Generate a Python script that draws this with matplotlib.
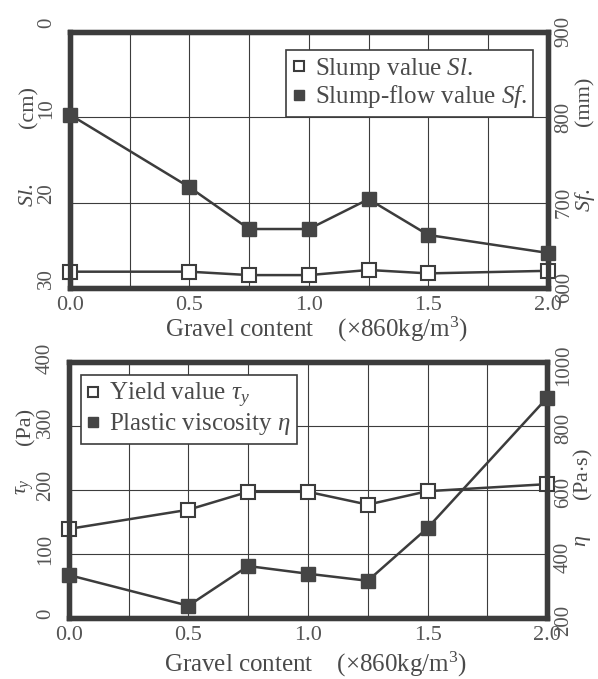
import matplotlib
matplotlib.use('Agg')
import matplotlib.pyplot as plt
import matplotlib.transforms as mtransforms

# Times 风格字体
plt.rcParams['font.family'] = ['Liberation Serif', 'DejaVu Serif']
plt.rcParams['mathtext.fontset'] = 'custom'
plt.rcParams['mathtext.rm'] = 'Liberation Serif'
plt.rcParams['mathtext.it'] = 'Liberation Serif:italic'

INK = '#3c3c3c'
TXT = '#4a4a4a'
FS = 18        # 图例、横轴标题
FS_X = 16      # 横轴刻度
FS_Y = 15      # 竖排刻度与竖排标题

# 粗骨料含量 (×860kg/m3)
gravel = [0.0, 0.5, 0.75, 1.0, 1.25, 1.5, 2.0]

# 坍落度 Sl (cm) 与坍落扩展度 Sf (mm)
slump = [28.1, 28.1, 28.5, 28.5, 27.9, 28.3, 28.0]
slump_flow = [803, 718, 669, 669, 704, 662, 641]

# 屈服值 τy (Pa) 与塑性黏度 η (Pa·s)
yield_value = [139, 169, 197, 197, 177, 198, 209]
viscosity = [334, 238, 362, 338, 316, 481, 888]

x_ticks = [0.0, 0.5, 1.0, 1.5, 2.0]
x_grid = [0.25, 0.5, 0.75, 1.0, 1.25, 1.5, 1.75]
XLABEL = 'Gravel content    (×860kg/m$^3$)'


def thick_spines(ax):
    for side in ax.spines.values():
        side.set_linewidth(3.8)
        side.set_color(INK)


def style_frame(ax):
    """粗边框、细网格"""
    ax.set_xlim(0, 2.0)
    ax.set_xticks(x_ticks)
    ax.set_xticklabels(['%.1f' % v for v in x_ticks])
    for x in x_grid:
        ax.axvline(x, color=INK, lw=0.8, zorder=0)
    thick_spines(ax)
    ax.tick_params(length=0, colors='#555555')
    ax.tick_params(axis='x', pad=6, labelsize=FS_X)
    ax.tick_params(axis='y', rotation=90, pad=10, labelsize=FS_Y)


def style_right(ax2, ticks):
    ax2.set_yticks(ticks)
    ax2.tick_params(length=0, labelsize=FS_Y, colors='#555555', rotation=90, pad=5)
    thick_spines(ax2)


def center_labels(ax, dy=0):
    off = mtransforms.ScaledTranslation(0, dy / 100, ax.figure.dpi_scale_trans)
    for lab in ax.get_yticklabels():
        lab.set_va('center')
        if dy:
            lab.set_transform(lab.get_transform() + off)


def series(ax, x, y, filled):
    if filled:
        ax.plot(x, y, color=INK, lw=1.8, marker='s', ms=9.5, mfc='#454545',
                mec='#454545', clip_on=False, zorder=5)
    else:
        ax.plot(x, y, color=INK, lw=1.8, marker='s', ms=9.5, mfc='white',
                mec=INK, mew=1.5, clip_on=False, zorder=6)


def add_legend(ax, host, labels, **kw):
    h1, = host.plot([], [], 's', ms=7.5, mfc='white', mec=INK, mew=1.5)
    h2, = host.plot([], [], 's', ms=7.5, mfc='#454545', mec='#454545')
    leg = ax.legend([h1, h2], labels, fontsize=FS, handlelength=0.5,
                    handletextpad=0.4, borderpad=0.25, labelspacing=0.05,
                    borderaxespad=0, fancybox=False, framealpha=1, **kw)
    leg.get_frame().set_edgecolor(INK)
    leg.get_frame().set_linewidth(1.2)
    for t in leg.get_texts():
        t.set_color(TXT)


def axis_title(ax, x, pieces):
    """竖排轴标题：符号与单位分开放置"""
    for text, y in pieces:
        ax.text(x, y, text, transform=ax.transAxes, rotation=90, fontsize=FS_Y + 1,
                color=TXT, ha='center', va='center')


def plot_slump(ax):
    """坍落度与坍落扩展度"""
    style_frame(ax)
    ax.set_ylim(30, 0)
    ax.set_yticks([0, 10, 20, 30])
    ax2 = ax.twinx()
    ax2.set_ylim(600, 900)
    style_right(ax2, [600, 700, 800, 900])
    for y in [700, 800]:
        ax2.axhline(y, color=INK, lw=0.8, zorder=0)

    series(ax, gravel, slump, False)
    series(ax2, gravel, slump_flow, True)
    center_labels(ax, 9)
    center_labels(ax2)

    add_legend(ax2, ax, ['Slump value $\\it{Sl}$.', 'Slump-flow value $\\it{Sf}$.'],
               loc='upper right', bbox_to_anchor=(0.97, 0.93))

    ax.set_xlabel(XLABEL, fontsize=FS, color=TXT, va='top')
    ax.xaxis.set_label_coords(0.515, -0.106)
    axis_title(ax, -0.086, [('$\\it{Sl.}$', 0.363), ('(cm)', 0.707)])
    axis_title(ax, 1.077, [('$\\it{Sf.}$', 0.344), ('(mm)', 0.727)])


def plot_rheology(ax):
    """屈服值与塑性黏度"""
    style_frame(ax)
    ax.set_ylim(0, 400)
    ax.set_yticks([0, 100, 200, 300, 400])
    for y in [100, 200, 300]:
        ax.axhline(y, color=INK, lw=0.8, zorder=0)
    ax2 = ax.twinx()
    ax2.set_ylim(200, 1000)
    style_right(ax2, [200, 400, 600, 800, 1000])

    series(ax, gravel, yield_value, False)
    series(ax2, gravel, viscosity, True)
    center_labels(ax, 4)
    center_labels(ax2, -3)

    add_legend(ax2, ax, ['Yield value $\\tau_y$', 'Plastic viscosity $\\eta$'],
               loc='upper left', bbox_to_anchor=(0.025, 0.95))

    ax.set_xlabel(XLABEL, fontsize=FS, color=TXT, va='top')
    ax.xaxis.set_label_coords(0.515, -0.125)
    axis_title(ax, -0.090, [('$\\tau_y$', 0.512), ('(Pa)', 0.746)])
    axis_title(ax, 1.075, [('$\\eta$', 0.30), ('(Pa$\\cdot$s)', 0.559)])


def main():
    fig = plt.figure(figsize=(5.98, 6.79), dpi=100)
    ax_top = fig.add_axes([0.117, 0.576, 0.799, 0.377])
    ax_bot = fig.add_axes([0.115, 0.090, 0.800, 0.377])
    plot_slump(ax_top)
    plot_rheology(ax_bot)
    fig.savefig('out.png', dpi=100)


if __name__ == '__main__':
    main()
